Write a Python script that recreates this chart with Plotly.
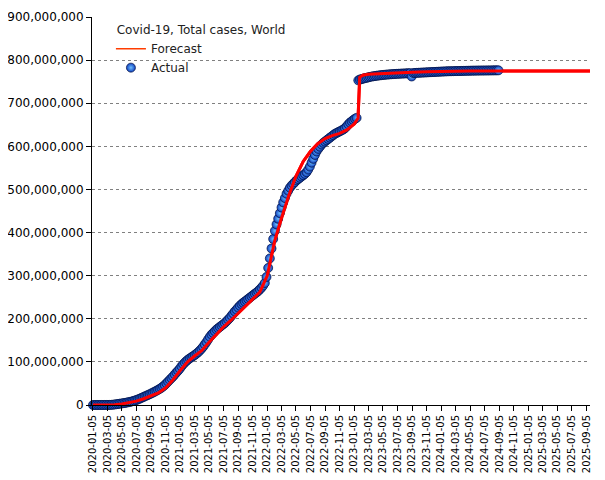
import pandas as pd
import plotly.graph_objects as go

# ---------------- data (millions of cases) ----------------
actual_start = "2020-01-05"  # weekly observations
actual_2020 = [0.0, 0.0, 0.0, 0.002, 0.015, 0.04, 0.07, 0.08, 0.09, 0.11, 0.17, 0.34, 0.72,
               1.2, 1.8, 2.4, 2.9, 3.5, 4.1, 4.7, 5.4, 6.2, 7.0, 7.9, 9.0, 10.2,
               11.5, 13.0, 14.6, 16.4, 18.1, 19.9, 21.6, 23.3, 25.1, 26.9, 28.9, 30.9, 33.0,
               35.1, 37.4, 39.9, 42.9, 46.2, 50.2, 54.2, 58.3, 62.2, 66.2, 70.7, 75.3, 79.5]
actual_2021 = [84.0, 89.5, 94.2, 98.3, 102.1, 105.3, 108.1, 110.7, 113.3, 116.0, 119.0, 122.2, 126.0,
               130.2, 135.0, 140.3, 146.0, 152.0, 158.0, 163.0, 167.0, 171.0, 175.0, 178.0, 181.0, 184.0,
               187.0, 190.0, 194.0, 198.0, 202.0, 207.0, 212.0, 217.0, 221.0, 226.0, 230.0, 234.0, 237.0,
               240.0, 243.0, 246.0, 249.0, 252.0, 255.0, 258.0, 261.0, 264.0, 268.0, 272.0, 277.0, 283.0]
actual_2022 = [297, 318, 340, 363, 385, 404, 419, 432, 445, 458, 470, 480, 490,
               497, 504, 509, 513, 517, 521, 524, 527, 530, 533, 536, 540,
               546, 553, 562, 571, 580, 588, 594, 599, 604, 608, 611, 614, 617,
               620, 623, 626, 629, 631, 633, 635, 637, 639, 642, 646, 651, 655]
actual_2023 = [658, 661, 664, 666, 753, 755, 756, 757, 758, 759, 760, 761, 761.8,
               762.5, 763.1, 763.7, 764.2, 764.7, 765.2, 765.6, 766.0, 766.4,
               766.7, 767.0, 767.3, 767.6, 767.9, 768.1, 768.3, 768.5, 768.7,
               768.9, 769.1, 769.3, 769.5, 769.7, 762.0, 770.0, 770.2,
               770.4, 770.6, 770.8, 771.0, 771.2, 771.4, 771.6, 771.8, 772.0,
               772.2, 772.4, 772.6, 772.8, 773.0]
actual_2024 = [773.2, 773.4, 773.6, 773.8, 774.0, 774.1, 774.2, 774.3,
               774.4, 774.5, 774.6, 774.7, 774.8, 774.9, 775.0, 775.1, 775.2,
               775.3, 775.4, 775.5, 775.6, 775.6, 775.7, 775.7, 775.8, 775.8,
               775.9, 775.9, 776.0, 776.0, 776.1, 776.1, 776.2, 776.2, 776.3, 776.3]

forecast_dates = ["2020-01-05", "2020-02-05", "2020-03-05", "2020-04-05", "2020-05-05", "2020-06-05",
                  "2020-07-05", "2020-08-05", "2020-09-05", "2020-10-05", "2020-11-05", "2020-12-05",
                  "2021-01-05", "2021-02-05", "2021-03-05", "2021-04-05", "2021-05-05", "2021-06-05",
                  "2021-07-05", "2021-08-05", "2021-09-05", "2021-10-05", "2021-11-05", "2021-12-05",
                  "2022-01-05", "2022-02-05", "2022-03-05", "2022-04-05", "2022-05-05", "2022-06-05",
                  "2022-07-05", "2022-08-05", "2022-09-05", "2022-10-05", "2022-11-05", "2022-12-05",
                  "2023-01-05", "2023-01-21", "2023-01-28", "2023-02-10", "2023-03-05", "2023-05-05",
                  "2023-07-05", "2023-09-05", "2023-11-05", "2024-01-05", "2024-05-05", "2024-09-05",
                  "2025-01-05", "2025-09-20"]
forecast_values = [0, 0.03, 0.1, 0.8, 2.5, 5, 9, 14.5, 21.5, 28, 40, 58,
                   80, 100, 113, 126, 145, 163, 181, 196, 213, 229, 245, 262,
                   300, 380, 432, 485, 530, 565, 588, 606, 618, 625, 630, 638,
                   652, 665, 760, 765, 767, 769, 770.5, 772, 773, 774, 774.5, 775,
                   775, 775]

tick_labels = ["2020-01-05", "2020-03-05", "2020-05-05", "2020-07-05", "2020-09-05", "2020-11-05",
               "2021-01-05", "2021-03-05", "2021-05-05", "2021-07-05", "2021-09-05", "2021-11-05",
               "2022-01-05", "2022-03-05", "2022-05-05", "2022-07-05", "2022-09-05", "2022-11-05",
               "2023-01-05", "2023-03-05", "2023-05-05", "2023-07-05", "2023-09-05", "2023-11-05",
               "2024-01-05", "2024-03-05", "2024-05-05", "2024-07-05", "2024-09-05", "2024-11-05",
               "2025-01-05", "2025-03-05", "2025-05-05", "2025-07-05", "2025-09-05"]

legend_title = "Covid-19, Total cases, World"
# -----------------------------------------------------------

actual_values = actual_2020 + actual_2021 + actual_2022 + actual_2023 + actual_2024
actual_dates = pd.date_range(actual_start, periods=len(actual_values), freq="7D")
M = 1_000_000

fig = go.Figure()

fig.add_trace(go.Scatter(
    x=pd.to_datetime(forecast_dates), y=[v * M for v in forecast_values],
    mode="lines", line=dict(color="#ff0000", width=3), showlegend=False,
    hoverinfo="skip"))

fig.add_trace(go.Scatter(
    x=actual_dates, y=[v * M for v in actual_values],
    mode="markers", name="Actual", cliponaxis=False,
    marker=dict(size=9, color="#1040c0",
                gradient=dict(type="radial", color="#6ec0ff"),
                line=dict(width=0.7, color="#00103f"))))

fig.add_trace(go.Scatter(
    x=pd.to_datetime(forecast_dates), y=[v * M for v in forecast_values],
    mode="lines", line=dict(color="#ff0000", width=3), showlegend=False,
    hoverinfo="skip"))

fig.add_trace(go.Scatter(
    x=[None], y=[None], mode="lines", name="Forecast",
    line=dict(color="#ff3c00", width=1.5)))

fig.update_layout(
    width=597, height=472,
    margin=dict(l=84, r=15, t=9, b=75, autoexpand=False),
    paper_bgcolor="white", plot_bgcolor="white",
    font=dict(family="DejaVu Sans", size=12, color="#000000"),
    showlegend=True,
    legend=dict(
        x=0.038, y=0.996, xanchor="left", yanchor="top",
        bgcolor="rgba(0,0,0,0)", borderwidth=0,
        title=dict(text="\u00a0" + legend_title, font=dict(size=12, color="#222222")),
        font=dict(size=12, color="#222222"),
        traceorder="reversed", tracegroupgap=0),
    xaxis=dict(
        type="date",
        range=["2020-01-01", "2025-09-20"],
        tickvals=pd.to_datetime(tick_labels), ticktext=tick_labels,
        tickangle=-90, tickfont=dict(size=10, family="DejaVu Sans"),
        ticks="outside", ticklen=5, tickcolor="black",
        showgrid=False, zeroline=False,
        showline=True, linecolor="black", linewidth=1,
        automargin=False),
    yaxis=dict(
        range=[0, 900 * M], dtick=100 * M, tick0=0,
        tickformat=",d", tickfont=dict(size=12, family="DejaVu Sans"),
        ticks="outside", ticklen=5, tickcolor="black",
        showgrid=True, gridcolor="#808080", gridwidth=1, griddash="3px,3px",
        zeroline=False,
        showline=True, linecolor="black", linewidth=1,
        automargin=False),
)

fig.write_html("out.html", config={"displayModeBar": False})
